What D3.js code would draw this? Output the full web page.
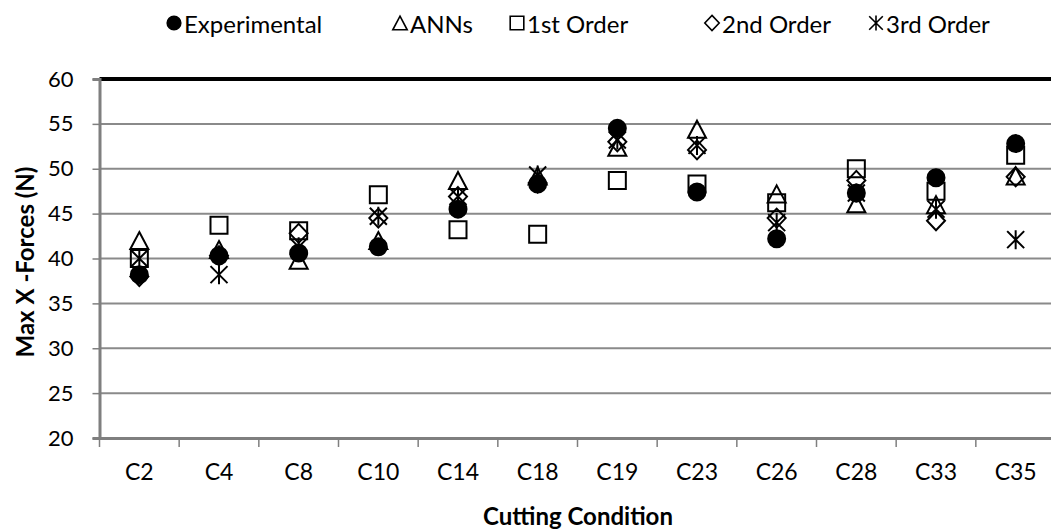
<!DOCTYPE html>
<html>
<head>
<meta charset="utf-8">
<script src="https://cdn.jsdelivr.net/npm/d3@7"></script>
<style>
  body { margin: 0; background: #fff; }
  svg { display: block; font-family: Lato, "Open Sans", sans-serif; }
</style>
</head>
<body>
<div id="chart"></div>
<script>
// data
var categories = ["C2", "C4", "C8", "C10", "C14", "C18", "C19", "C23", "C26", "C28", "C33", "C35"];
var experimental = [38.2, 40.3, 40.6, 41.3, 45.5, 48.3, 54.5, 47.4, 42.2, 47.3, 49.0, 52.8];
var anns        = [42.0, 41.0, 39.8, 42.0, 48.7, 49.2, 52.4, 54.4, 47.2, 46.1, 46.0, 49.2];
var firstOrder  = [40.0, 43.7, 43.1, 47.1, 43.2, 42.7, 48.7, 48.3, 46.2, 50.0, 47.5, 51.5];
var secondOrder = [38.0, 40.3, 42.8, 44.5, 46.9, 48.4, 53.0, 52.1, 44.5, 48.7, 44.2, 49.1];
var thirdOrder  = [40.0, 38.2, 41.3, 44.7, 46.9, 49.3, 53.2, 52.6, 44.0, 47.3, 45.5, 42.1];
var yTicks = [20, 25, 30, 35, 40, 45, 50, 55, 60];

var seriesNames = ["Experimental", "ANNs", "1st Order", "2nd Order", "3rd Order"];
var seriesValues = [experimental, anns, firstOrder, secondOrder, thirdOrder];
var seriesShapes = ["circle", "triangle", "square", "diamond", "star"];

var width = 1051, height = 529;
var plotLeft = 99.5, plotRight = 1055.5, plotTop = 79, plotBottom = 438;

var svg = d3.select("#chart")
    .append("svg")
    .attr("width", width)
    .attr("height", height);

var x = d3.scaleBand()
    .domain(categories)
    .range([plotLeft, plotRight])
    .padding(0);

var y = d3.scaleLinear()
    .domain([20, 60])
    .range([plotBottom, plotTop]);

// marker paths, centred on 0,0
function markerPath(shape) {
    var p = d3.path();
    if (shape == "circle") {
        p.arc(0, 0, 8.5, 0, 2 * Math.PI);
    } else if (shape == "triangle") {
        p.moveTo(0, -8.5); p.lineTo(9, 8.5); p.lineTo(-9, 8.5); p.closePath();
    } else if (shape == "square") {
        p.rect(-8.5, -8.5, 17, 17);
    } else if (shape == "diamond") {
        p.moveTo(0, -9.5); p.lineTo(9, 0); p.lineTo(0, 9.5); p.lineTo(-9, 0); p.closePath();
    } else {
        p.moveTo(-8.5, -8.5); p.lineTo(8.5, 8.5);
        p.moveTo(8.5, -8.5); p.lineTo(-8.5, 8.5);
        p.moveTo(0, -9.5); p.lineTo(0, 9.5);
    }
    return p.toString();
}

// gridlines
svg.append("g")
    .selectAll("line")
    .data(yTicks.filter(function(d) { return d > 20 && d < 60; }))
    .enter()
    .append("line")
    .attr("x1", plotLeft)
    .attr("x2", width)
    .attr("y1", function(d) { return y(d); })
    .attr("y2", function(d) { return y(d); })
    .attr("stroke", "#8a8a8a")
    .attr("stroke-width", 2);

// top border
svg.append("line")
    .attr("x1", plotLeft).attr("x2", width)
    .attr("y1", y(60)).attr("y2", y(60))
    .attr("stroke", "#000")
    .attr("stroke-width", 4);

// y axis
var yAxis = svg.append("g")
    .attr("transform", "translate(" + plotLeft + ",0)")
    .call(d3.axisLeft(y).tickValues(yTicks).tickSize(7).tickPadding(19));
yAxis.select(".domain").attr("stroke", "#7f7f7f").attr("stroke-width", 3);
yAxis.selectAll(".tick line").attr("stroke", "#7f7f7f").attr("stroke-width", 1.5);
yAxis.selectAll("text")
    .attr("font-family", "Lato, sans-serif")
    .attr("font-size", 22)
    .attr("fill", "#000");

// x axis
var xAxis = svg.append("g")
    .attr("transform", "translate(0," + plotBottom + ")")
    .call(d3.axisBottom(x).tickSize(0).tickPadding(26));
xAxis.select(".domain").attr("stroke", "#7f7f7f").attr("stroke-width", 3);
xAxis.selectAll("text")
    .attr("font-family", "Lato, sans-serif")
    .attr("font-size", 23)
    .attr("fill", "#000");

// tick marks between categories
svg.append("g")
    .selectAll("line")
    .data(categories)
    .enter()
    .append("line")
    .attr("x1", function(d) { return x(d); })
    .attr("x2", function(d) { return x(d); })
    .attr("y1", plotBottom)
    .attr("y2", plotBottom + 9)
    .attr("stroke", "#7f7f7f")
    .attr("stroke-width", 1.5);

// axis titles
svg.append("text")
    .attr("transform", "translate(24,262) rotate(-90)")
    .attr("text-anchor", "middle")
    .attr("dominant-baseline", "central")
    .attr("font-size", 24)
    .attr("font-weight", "bold")
    .text("Max X -Forces (N)");

svg.append("text")
    .attr("x", 578)
    .attr("y", 515)
    .attr("text-anchor", "middle")
    .attr("dominant-baseline", "central")
    .attr("font-size", 24)
    .attr("font-weight", "bold")
    .text("Cutting Condition");

// points, one group per series
seriesValues.forEach(function(values, s) {
    var shape = seriesShapes[s];
    svg.append("g")
        .selectAll("path")
        .data(values)
        .enter()
        .append("path")
        .attr("transform", function(d, i) {
            return "translate(" + (x(categories[i]) + x.bandwidth() / 2) + "," + y(d) + ")";
        })
        .attr("d", markerPath(shape))
        .attr("fill", shape == "circle" ? "#000" : "none")
        .attr("stroke", "#000")
        .attr("stroke-width", 2);
});

// legend
var legendX = [174, 400, 517, 712, 876];
var legend = svg.append("g")
    .selectAll("g")
    .data(seriesNames)
    .enter()
    .append("g")
    .attr("transform", function(d, i) { return "translate(" + legendX[i] + ",23)"; });

legend.append("path")
    .attr("d", function(d, i) { return markerPath(seriesShapes[i]); })
    .attr("transform", "scale(0.8)")
    .attr("fill", function(d, i) { return seriesShapes[i] == "circle" ? "#000" : "none"; })
    .attr("stroke", "#000")
    .attr("stroke-width", 2);

legend.append("text")
    .attr("x", 10)
    .attr("dominant-baseline", "central")
    .attr("font-size", 24)
    .text(function(d) { return d; });
</script>
</body>
</html>
